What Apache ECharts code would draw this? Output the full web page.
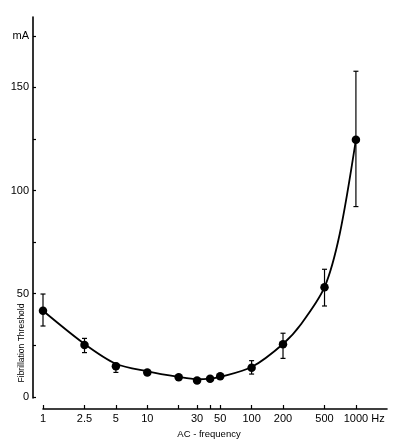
<!DOCTYPE html>
<html><head><meta charset="utf-8">
<script src="https://cdn.jsdelivr.net/npm/echarts@6/dist/echarts.min.js"></script>
<style>html,body{margin:0;padding:0;background:#fff}#c{width:397px;height:444px}</style>
</head><body><div id="c"></div>
<script>
// Data
const frequencies = [1, 2.5, 5, 10, 20, 30, 40, 50, 100, 200, 500, 1000]; // Hz
const thresholdMean = [41.7, 25.1, 14.8, 11.8, 9.5, 7.9, 8.7, 10.0, 14.1, 25.4, 53.1, 124.6]; // mA
const curveFrequencies = [1, 2.5, 5, 10, 20, 30, 40, 50, 100, 200, 300, 500, 700, 1000]; // fitted curve
const curveValues = [41.7, 25.6, 16.0, 12.3, 9.6, 8.5, 8.8, 9.6, 14.4, 25.6, 35.4, 53.1, 79.0, 124.6];
const errorFrequencies = [1, 2.5, 5, 100, 200, 500, 1000];
const errorLow = [34.3, 21.4, 11.8, 11.0, 18.6, 44.0, 92.2];
const errorHigh = [49.8, 28.3, 16.2, 17.5, 30.8, 61.8, 157.8];
const xTickValues = [1, 2.5, 5, 10, 20, 30, 40, 50, 100, 200, 500, 1000];
const xLabelValues = [1, 2.5, 5, 10, 30, 50, 100, 200, 500, 1000];
const yTickValues = [0, 25, 50, 75, 100, 125, 150, 175];
const yLabelValues = [0, 50, 100, 150, 175];
const yUnitLabel = 'mA';
const xUnitLabel = 'Hz';
const xTitle = 'AC - frequency';
const yTitle = 'Fibrillation Threshold';

const lg = v => Math.log10(v);
const font = 'Liberation Sans';

const chart = echarts.init(document.getElementById('c'), null, {renderer: 'canvas'});
chart.setOption({
  backgroundColor: '#fff',
  animation: false,
  grid: {left: 43, right: 10, top: 17, bottom: 46, containLabel: false},
  xAxis: {
    type: 'value', min: 0, max: 3.298, offset: 11,
    splitLine: {show: false},
    axisLine: {show: true, onZero: false, lineStyle: {color: '#000', width: 1.6}},
    axisTick: {show: true, inside: true, length: 4, lineStyle: {color: '#000', width: 1.2},
      customValues: xTickValues.map(lg)},
    axisLabel: {
      customValues: xLabelValues.map(lg), margin: 4,
      color: '#000', fontFamily: font, fontSize: 11,
      formatter: v => {
        const f = xLabelValues.find(t => Math.abs(lg(t) - v) < 1e-6);
        if (f === 1000) return '{p| }' + f + ' ' + xUnitLabel;
        return String(f);
      },
      rich: {p: {width: 16.5, fontSize: 11, fontFamily: font}}
    },
    name: xTitle, nameLocation: 'middle', nameGap: 17,
    nameTextStyle: {color: '#000', fontFamily: font, fontSize: 9.5, padding: [0, 12, 0, 0]}
  },
  yAxis: {
    type: 'value', min: -0.6, max: 184.1, offset: 10,
    splitLine: {show: false},
    axisLine: {show: true, onZero: false, lineStyle: {color: '#000', width: 1.6}},
    axisTick: {show: true, inside: true, length: 3, lineStyle: {color: '#000', width: 1.2},
      customValues: yTickValues},
    axisLabel: {
      customValues: yLabelValues, margin: 4,
      color: '#000', fontFamily: font, fontSize: 11,
      formatter: v => (v === 175 ? yUnitLabel : String(v))
    }
  },
  graphic: [{
    type: 'text', x: 22, y: 343, rotation: Math.PI / 2,
    style: {text: yTitle, fill: '#000', font: '8.5px ' + font, align: 'center', verticalAlign: 'middle'}
  }],
  series: [
    {
      type: 'line', data: curveFrequencies.map((f, i) => [lg(f), curveValues[i]]),
      smooth: 0.3, showSymbol: false, symbol: 'none',
      lineStyle: {color: '#000', width: 1.8}, z: 2
    },
    {
      type: 'custom',
      data: errorFrequencies.map((f, i) => [lg(f), errorLow[i], errorHigh[i]]),
      encode: {x: 0, y: [1, 2]},
      renderItem: (params, api) => {
        const x = api.value(0);
        const lo = api.coord([x, api.value(1)]);
        const hi = api.coord([x, api.value(2)]);
        const st = {stroke: '#000', lineWidth: 1.2};
        const c = 2.5;
        return {type: 'group', children: [
          {type: 'line', shape: {x1: lo[0], y1: lo[1], x2: hi[0], y2: hi[1]}, style: st},
          {type: 'line', shape: {x1: lo[0] - c, y1: lo[1], x2: lo[0] + c, y2: lo[1]}, style: st},
          {type: 'line', shape: {x1: hi[0] - c, y1: hi[1], x2: hi[0] + c, y2: hi[1]}, style: st}
        ]};
      }, z: 3
    },
    {
      type: 'scatter', data: frequencies.map((f, i) => [lg(f), thresholdMean[i]]),
      symbol: 'circle', symbolSize: 8.5, itemStyle: {color: '#000', opacity: 1}, z: 4
    }
  ]
});
</script></body></html>
